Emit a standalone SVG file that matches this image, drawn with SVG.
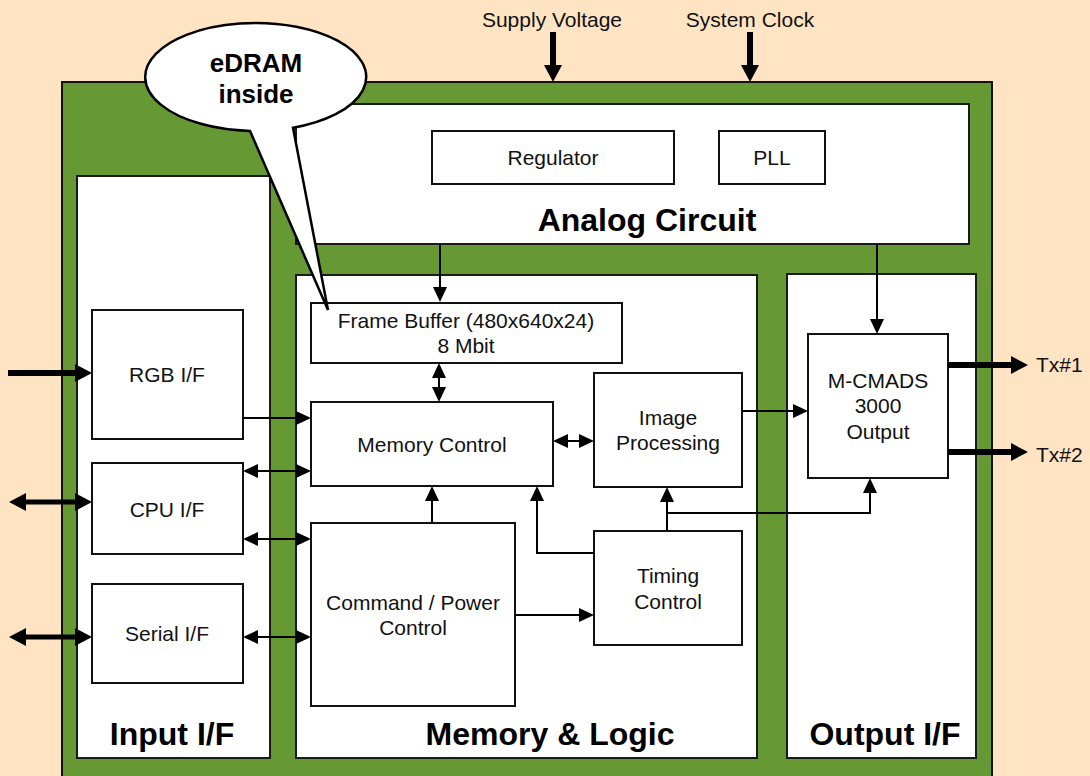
<svg xmlns="http://www.w3.org/2000/svg" width="1090" height="776" viewBox="0 0 1090 776">
<defs>
<style>
.bg{fill:#FFE4C4}
.green{fill:#669933;stroke:#111;stroke-width:2}
.panel{fill:#fff;stroke:#1a1a1a;stroke-width:2}
.box{fill:#fff;stroke:#111;stroke-width:2}
.t{font-family:"Liberation Sans",Arial,sans-serif;font-size:21px;fill:#111;text-anchor:middle}
.tl{font-family:"Liberation Sans",Arial,sans-serif;font-size:21px;fill:#111}
.title{font-family:"Liberation Sans",Arial,sans-serif;font-size:32px;font-weight:bold;fill:#000;text-anchor:middle}
.call{font-family:"Liberation Sans",Arial,sans-serif;font-size:26px;font-weight:bold;fill:#000;text-anchor:middle}
.c{fill:none;stroke:#000;stroke-width:2}
.ck{fill:none;stroke:#000;stroke-width:6}
.ck5{fill:none;stroke:#000;stroke-width:5}
.a{marker-end:url(#ah)}
.aa{marker-start:url(#ah);marker-end:url(#ah)}
.k{marker-end:url(#akh)}
.kk{marker-start:url(#akh);marker-end:url(#akh)}
</style>
<marker id="ah" markerUnits="userSpaceOnUse" markerWidth="15" markerHeight="14" viewBox="0 0 15 14" refX="0" refY="7" orient="auto-start-reverse"><path d="M0,0 L15,7 L0,14 Z" fill="#000"/></marker>
<marker id="akh" markerUnits="userSpaceOnUse" markerWidth="17" markerHeight="18" viewBox="0 0 17 18" refX="0" refY="9" orient="auto-start-reverse"><path d="M0,0 L17,9 L0,18 Z" fill="#000"/></marker>
</defs>
<rect class="bg" x="0" y="0" width="1090" height="776"/>
<rect class="green" x="62" y="82" width="930" height="720"/>

<g id="analog"><rect class="panel" x="296" y="104" width="673" height="140"/><text class="title" x="647" y="231">Analog Circuit</text></g>
<g id="input-if"><rect class="panel" x="77" y="176" width="193" height="582"/><text class="title" x="172" y="745">Input I/F</text></g>
<g id="memory-logic"><rect class="panel" x="296" y="275" width="461" height="483"/><text class="title" x="550" y="745">Memory &amp; Logic</text></g>
<g id="output-if"><rect class="panel" x="787" y="274" width="189" height="484"/><text class="title" x="885" y="745">Output I/F</text></g>

<g id="regulator"><rect class="box" x="432" y="131" width="242" height="53"/><text class="t" x="553" y="165">Regulator</text></g>
<g id="pll"><rect class="box" x="719" y="131" width="106" height="53"/><text class="t" x="772" y="165">PLL</text></g>
<g id="frame-buffer"><rect class="box" x="311" y="303" width="311" height="60"/><text class="t" x="466" y="328">Frame Buffer (480x640x24)</text><text class="t" x="466" y="353">8 Mbit</text></g>
<g id="memory-control"><rect class="box" x="311" y="402" width="242" height="84"/><text class="t" x="432" y="452">Memory Control</text></g>
<g id="command-power"><rect class="box" x="311" y="523" width="204" height="183"/><text class="t" x="413" y="610">Command / Power</text><text class="t" x="413" y="635">Control</text></g>
<g id="image-processing"><rect class="box" x="594" y="373" width="148" height="114"/><text class="t" x="668" y="425">Image</text><text class="t" x="668" y="450">Processing</text></g>
<g id="timing-control"><rect class="box" x="594" y="531" width="148" height="114"/><text class="t" x="668" y="583">Timing</text><text class="t" x="668" y="609">Control</text></g>
<g id="mcmads"><rect class="box" x="808" y="334" width="140" height="144"/><text class="t" x="878" y="388">M-CMADS</text><text class="t" x="878" y="413">3000</text><text class="t" x="878" y="439">Output</text></g>
<g id="rgb-if"><rect class="box" x="92" y="310" width="151" height="129"/><text class="t" x="167" y="382">RGB I/F</text></g>
<g id="cpu-if"><rect class="box" x="92" y="463" width="151" height="91"/><text class="t" x="167" y="517">CPU I/F</text></g>
<g id="serial-if"><rect class="box" x="92" y="584" width="151" height="99"/><text class="t" x="167" y="641">Serial I/F</text></g>

<g id="labels">
<text class="t" x="552" y="27">Supply Voltage</text>
<text class="t" x="750" y="27">System Clock</text>
<text class="tl" x="1036" y="372">Tx#1</text>
<text class="tl" x="1036" y="462">Tx#2</text>
</g>

<g id="connectors">
<path class="c a" d="M440,244 V287"/>
<path class="c aa" d="M439,378 V387"/>
<path class="c a" d="M243,418 H296"/>
<path class="c aa" d="M258,471 H296"/>
<path class="c aa" d="M258,539 H296"/>
<path class="c aa" d="M258,637 H296"/>
<path class="c a" d="M432,523 V501"/>
<path class="c a" d="M594,553 H537 V501"/>
<path class="c aa" d="M568,441 H579"/>
<path class="c a" d="M515,615 H579"/>
<path class="c a" d="M742,411 H793"/>
<path class="c a" d="M877,244 V319"/>
<path class="c a" d="M667,531 V502"/>
<path class="c a" d="M667,513 H870 V493"/>
<path class="ck k" d="M553,32 V65"/>
<path class="ck k" d="M750,32 V65"/>
<path class="ck k" d="M8,373 H75"/>
<path class="ck5 kk" d="M26,502 H75"/>
<path class="ck5 kk" d="M26,637 H75"/>
<path class="ck k" d="M948,365 H1011"/>
<path class="ck k" d="M948,452 H1011"/>
</g>

<g id="callout">
<path d="M250,130.9 A110.5,54 0 1 1 293,127.8 L328,310 Z" fill="#fff" stroke="#000" stroke-width="2.5" stroke-linejoin="miter"/>
<text class="call" x="256" y="72">eDRAM</text>
<text class="call" x="256" y="103">inside</text>
</g>
</svg>
